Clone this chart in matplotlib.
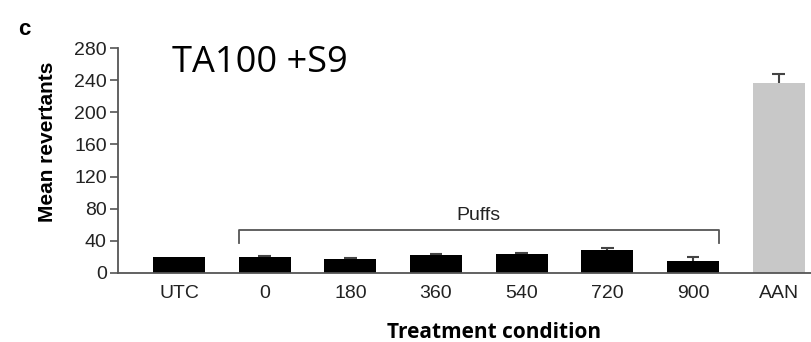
import matplotlib
matplotlib.use("Agg")
import matplotlib.pyplot as plt

categories = ["UTC", "0", "180", "360", "540", "720", "900", "AAN"]
means = [20, 20, 17, 22, 23.5, 28, 14.5, 236.5]
errors = [0, 1, 2, 1.5, 1.5, 3, 5, 11.5]
colors = ["#000000"] * 7 + ["#c8c8c8"]
yticks = [0, 40, 80, 120, 160, 200, 240, 280]

fig = plt.figure(figsize=(8.12, 3.42), dpi=100)
ax = fig.add_axes([0.1453, 0.2018, 0.8547, 0.6578])

x = list(range(len(categories)))
ax.bar(x, means, width=0.607, color=colors, edgecolor="none", zorder=2)
cap = 0.075
for xi, m, e in zip(x, means, errors):
    if e > 0:
        ax.plot([xi, xi], [m, m + e], color="#444444", lw=1.5, zorder=3,
                solid_capstyle="butt")
        ax.plot([xi - cap, xi + cap], [m + e, m + e], color="#444444", lw=1.5,
                zorder=3, solid_capstyle="butt")

ax.set_xlim(-0.713, 7.39)
ax.set_ylim(0, 280)
ax.set_yticks(yticks)
ax.set_xticks(x)
ax.set_xticklabels(categories)

for s in ["top", "right"]:
    ax.spines[s].set_visible(False)
for s in ["left", "bottom"]:
    ax.spines[s].set_color("#555555")
    ax.spines[s].set_linewidth(1.3)
ax.tick_params(axis="y", length=6, width=1.2, color="#555555",
               labelsize=14, labelcolor="#222222", pad=2)
ax.tick_params(axis="x", length=0, labelsize=14, labelcolor="#222222", pad=9)
for lab in ax.get_xticklabels() + ax.get_yticklabels():
    lab.set_family("Liberation Sans")

# Puffs bracket
bx0, bx1 = 1 - 0.3035, 6 + 0.3035
ytop, ybot = 53.5, 37.5
ax.plot([bx0, bx0, bx1, bx1], [ybot, ytop, ytop, ybot], color="#555555",
        lw=1.3, clip_on=False, zorder=3)
ax.text((bx0 + bx1) / 2, ytop + 12.5, "Puffs", ha="center", va="baseline",
        fontsize=14, family="Liberation Sans", color="#222222")

fig.text(0.022, 0.915, "c", fontsize=16, fontweight="bold",
         family="Liberation Sans", ha="left", va="center")
fig.text(0.212, 0.789, "TA100 +S9", fontsize=26, family="Open Sans",
         ha="left", va="baseline", color="#000000")
fig.text(0.058, 0.585, "Mean revertants", rotation=90, fontsize=15,
         fontweight="bold", family="Liberation Sans", ha="center", va="center")
fig.text(0.608, 0.028, "Treatment condition", fontsize=15, fontweight="bold",
         family="Open Sans", ha="center", va="center")

fig.savefig("out.png", dpi=100)
